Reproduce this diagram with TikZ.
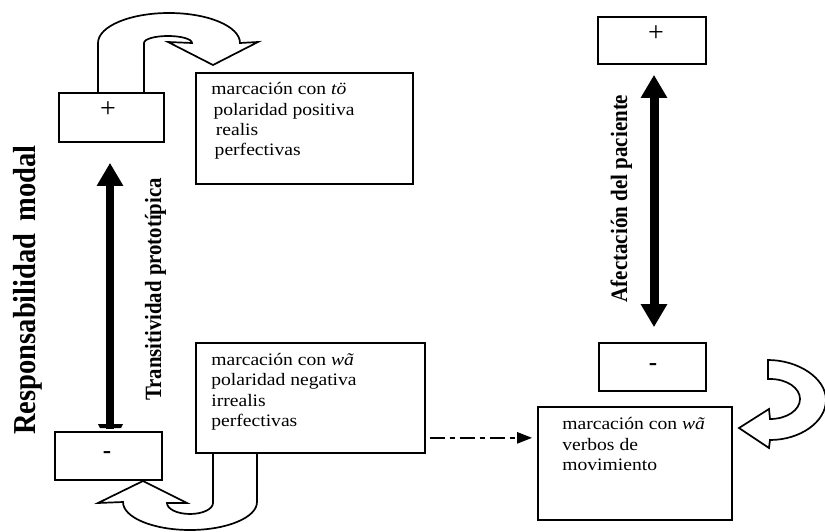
\documentclass[tikz,border=0pt]{standalone}
\usepackage{graphicx}
\usepackage{fontspec}
\setmainfont{Liberation Serif}
\usetikzlibrary{arrows.meta,calc}
\newcommand{\hstretch}[1]{\scalebox{1.12}[1]{#1}}
\begin{document}
\begin{tikzpicture}[x=1pt,y=-1pt,
  box/.style={draw, line width=1.7pt, inner sep=0pt, fill=white},
  txt/.style={font=\fontsize{17.5}{20.3}\selectfont, anchor=base west, inner sep=0pt},
  signtxt/.style={font=\fontsize{28}{28}\selectfont, inner sep=0pt},
  minustxt/.style={font=\bfseries\fontsize{25}{25}\selectfont, inner sep=0pt},
  bigarrow/.style={line width=8pt, -{Triangle[length=23pt,width=25pt]}},
  curvearrow/.style={draw, line width=1.7pt, fill=white, line join=miter},
  vlabel/.style={rotate=90, anchor=base, inner sep=0pt},
  dashdot/.style={line width=2.3pt, dash pattern=on 15pt off 5pt on 5pt off 5pt,
    shorten >=5pt, -{Triangle[length=15pt,width=11pt]}}
]
\useasboundingbox (0,0) rectangle (825,532);

% curved (block) arrows
\path[curvearrow] (98,93) -- (98,43) .. controls (98,26.4) and (129.8,13) .. (169,13)
  .. controls (208.2,13) and (240,26.4) .. (240,43) -- (258,42) -- (213,65) -- (168,42) -- (192,43)
  .. controls (192,39) and (181.2,36) .. (168,36) .. controls (154.8,36) and (144,39) .. (144,43) -- (144,93);

\path[curvearrow] (257,453) -- (257,502) .. controls (257,517.5) and (227,530) .. (190,530)
  .. controls (153,530) and (123,517.5) .. (123,502) -- (98,503) -- (143,481) -- (187,503) -- (167,503)
  .. controls (167,509) and (177.3,514) .. (190,514) .. controls (202.7,514) and (213,509) .. (213,503) -- (213,453);

\path[curvearrow] (768,360) .. controls (798,360) and (826,378) .. (826,400)
  .. controls (826,422) and (800,440) .. (770,440) -- (769,448) -- (739,428) -- (769,409) -- (770,419)
  .. controls (787,419) and (800,410) .. (800,399) .. controls (800,388) and (787,379) .. (770,379)
  -- (768,379) -- cycle;

% boxes
\node[box, minimum width=105pt, minimum height=49pt] (lplus) at (111.5,117.5) {};
\node[box, minimum width=107pt, minimum height=48pt] (lminus) at (108.5,456) {};
\node[box, minimum width=108pt, minimum height=47pt] (rplus) at (652,40.5) {};
\node[box, minimum width=107pt, minimum height=48pt] (rminus) at (652.5,367) {};
\node[box, minimum width=217pt, minimum height=111pt] (topbox) at (304.5,128.5) {};
\node[box, minimum width=229pt, minimum height=110pt] (botbox) at (310.5,398) {};
\node[box, minimum width=194pt, minimum height=113pt] (rbox) at (635,463.5) {};

% signs
\node[signtxt] (lplussign) at (108,110) {+};
\node[signtxt] (rplussign) at (656,34) {+};
\node[minustxt] (lminussign) at (107,455) {-};
\node[minustxt] (rminussign) at (653,367) {-};

% box texts
\node[txt] (toptext) at ($(topbox.north west)+(16,22.7)$) {\hstretch{\begin{tabular}[t]{@{}l@{}}
marcación con \textit{tö}\\
\hspace{2pt}polaridad positiva\\
\hspace{4pt}realis\\
\hspace{3pt}perfectivas\end{tabular}}};
\node[txt] (bottext) at ($(botbox.north west)+(16,23.5)$) {\hstretch{\begin{tabular}[t]{@{}l@{}}
marcación con \textit{wã}\\
polaridad negativa\\
irrealis\\
perfectivas\end{tabular}}};
\node[txt] (rtext) at ($(rbox.north west)+(25,23.7)$) {\hstretch{\begin{tabular}[t]{@{}l@{}}
marcación con \textit{wã}\\
verbos de\\
movimiento\end{tabular}}};

% vertical labels
\node[vlabel, font=\bfseries\fontsize{28.5}{28.5}\selectfont] (resp) at (35,290)
  {\scalebox{1}[1.12]{Responsabilidad\hspace{12pt}modal}};
\node[vlabel, font=\bfseries\fontsize{20.8}{20.8}\selectfont] (trans) at (161,289.5)
  {\scalebox{1}[1.12]{Transitividad prototípica}};
\node[vlabel, font=\bfseries\fontsize{21}{21}\selectfont] (afect) at (627,198.5)
  {\scalebox{1}[1.12]{Afectación del paciente}};

% thick arrows
\draw[bigarrow] ($(lminus.north)+(1.5,-2)$) -- ($(lplus.south)+(-1.5,20)$);
\fill ($(lminus.north)+(-10.5,-7)$) -- ++(25,0) -- ++(-2,4) -- ++(-21,0) -- cycle;
\draw[line width=9pt, {Triangle[length=23pt,width=25pt]}-{Triangle[length=23pt,width=25pt]}]
  ($(rplus.south)+(2,10)$) -- ($(rminus.north)+(1.5,-15)$);

% dash-dot connector
\coordinate (d1) at ($(botbox.south east)+(4,-16)$);
\draw[dashdot] (d1) -- (d1 -| rbox.west);
\end{tikzpicture}
\end{document}
